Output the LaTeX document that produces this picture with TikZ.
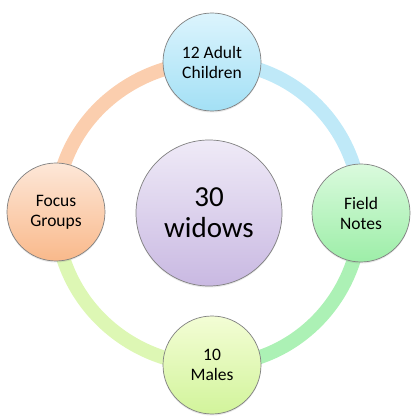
\documentclass[tikz,border=0pt]{standalone}
\usepackage{fontspec}
\setmainfont{Carlito}
\usetikzlibrary{backgrounds,shadows}

\definecolor{lavtop}{HTML}{EFEAF7}
\definecolor{lavbot}{HTML}{C9B9E2}
\definecolor{bluetop}{HTML}{DCF4FD}
\definecolor{bluebot}{HTML}{A3E0F5}
\definecolor{greentop}{HTML}{DAFADD}
\definecolor{greenbot}{HTML}{9DEEA8}
\definecolor{limetop}{HTML}{F3FDD5}
\definecolor{limebot}{HTML}{D2F49B}
\definecolor{peachtop}{HTML}{FDE7D8}
\definecolor{peachbot}{HTML}{F9B98B}

\begin{document}
\begin{tikzpicture}[x=1pt, y=1pt,
  bub/.style={circle, draw=black!50, line width=0.7pt, minimum size=98pt,
    inner sep=0pt, align=center, font=\fontsize{17.5}{20}\selectfont,
    drop shadow={opacity=0.18, shadow xshift=0pt, shadow yshift=-1.5pt}},
  ring/.style={line width=14pt}]
\useasboundingbox (-209,-206) rectangle (203,213);
\node[bub, minimum size=146pt, top color=lavtop, bottom color=lavbot,
  font=\fontsize{29}{31}\selectfont] (W) at (0,0) {30\\widows};
\node[bub, top color=bluetop, bottom color=bluebot] (AC) at (3,151) {12 Adult\\Children};
\node[bub, top color=greentop, bottom color=greenbot] (FN) at (152,0) {Field\\Notes};
\node[bub, top color=limetop, bottom color=limebot] (M) at (3,-152) {10\\Males};
\node[bub, top color=peachtop, bottom color=peachbot] (FG) at (-153,1) {Focus\\Groups};
\begin{pgfonlayer}{background}
\draw [ring, color=peachbot!70] (FG.center) to[out=90, in=180] (AC.center);
\draw [ring, color=bluebot!70] (AC.center) to[out=0, in=90] (FN.center);
\draw [ring, color=greenbot!85] (FN.center) to[out=-90, in=0] (M.center);
\draw [ring, color=limebot!75] (M.center) to[out=180, in=-90] (FG.center);
\end{pgfonlayer}
\end{tikzpicture}
\end{document}
